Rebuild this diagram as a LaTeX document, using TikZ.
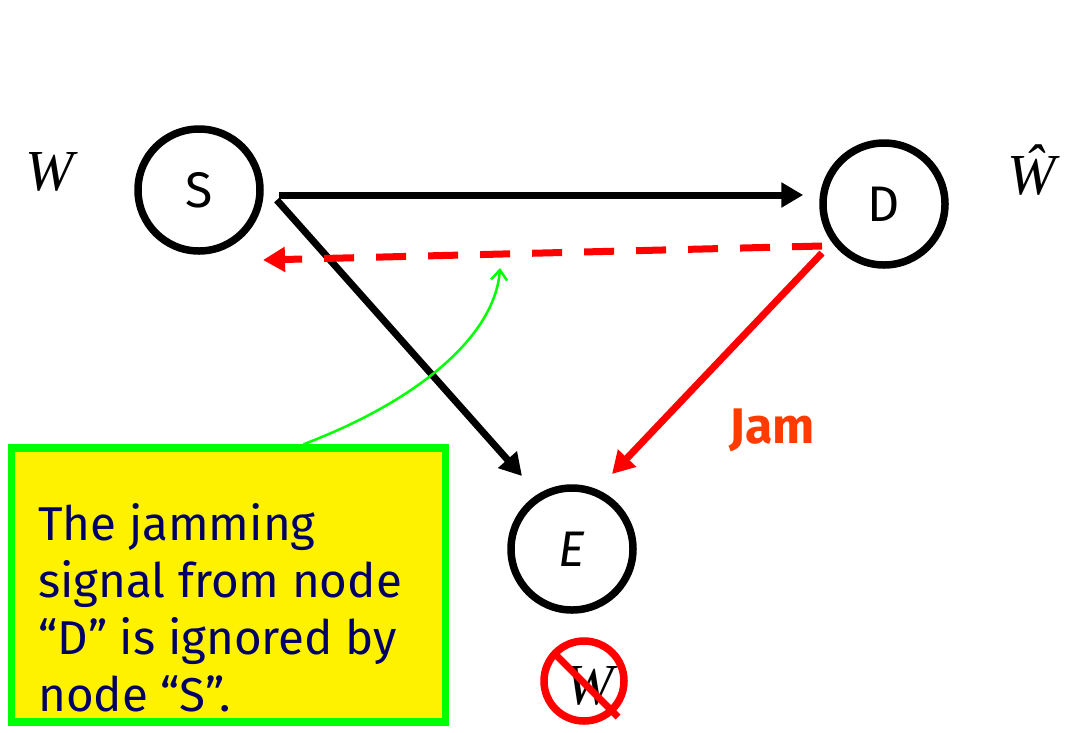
\documentclass[tikz,border=0pt]{standalone}
\usepackage{fontspec}
\setmainfont{Liberation Serif}
\newfontfamily\comic{Fira Sans}
\newfontfamily\tnr{Liberation Serif}
\usetikzlibrary{arrows.meta,calc}
\definecolor{navy}{RGB}{0,0,102}
\definecolor{jamred}{RGB}{255,60,0}
\definecolor{lgreen}{RGB}{0,255,0}
\newcommand\nodefont{\comic\fontsize{50}{52}\selectfont}
\tikzset{
  netnode/.style={circle,draw=black,line width=7.5pt,minimum size=122pt,inner sep=0pt},
  blackarrow/.style={line width=7pt,-{Triangle[length=22pt,width=24pt]}},
  redarrow/.style={red,line width=7pt,-{Triangle[length=22pt,width=24pt]}},
  wlabel/.style={font=\tnr\fontsize{58}{60}\selectfont\itshape},
}
\begin{document}
\begin{tikzpicture}[x=1pt,y=-1pt]
\useasboundingbox (0,0) rectangle (1070,732);
% nodes
\node[netnode] (S) at (199,190) {\nodefont S};
\node[netnode] (D) at (884,204) {\nodefont D};
\node[netnode] (E) at (572,549) {\nodefont\itshape E};
% labels
\node[wlabel] (W1) at (50,172) {W};
\node[wlabel] (W2) at (1032,170) {Ŵ};
% crossed W
\node[wlabel] (W3) at (590,686) {W};
\node[circle,draw=red,line width=7.5pt,minimum size=80pt,inner sep=0pt] (noW) at (584,681) {};
\draw[red,line width=7pt] ($(noW.center)+(-27,-25)$) -- ($(noW.center)+(34,36)$);
% connectors
\draw[blackarrow] ($(S.east)+(15,5)$) -- ($(D.west)+(-16,-9)$);
\draw[blackarrow] ($(S.east)+(13,10)$) -- ($(E.center)+(-50,-73)$);
\draw[redarrow,dash pattern=on 30pt off 22pt] ($(D.center)+(-62,42)$) -- ($(S.center)+(64,70)$);
\draw[redarrow] ($(D.center)+(-62,49)$) -- ($(E.center)+(40,-75)$);
\node[font=\comic\bfseries\fontsize{50}{52}\selectfont,text=jamred] (jam) at (772,430) {Jam};
% note box
\node[draw=lgreen,fill=yellow,line width=7.5pt,minimum width=434pt,minimum height=274pt,inner sep=0pt] (box) at (228.5,585) {};
\node[anchor=north west,align=left,text=navy,inner sep=0pt,font=\comic\fontsize{47.5}{57}\selectfont] (note) at (38,503)
  {The jamming\\signal from node\\“D” is ignored by\\node “S”.};
\draw[lgreen,line width=2.5pt,-{Straight Barb[length=10pt,width=16pt]}] ($(box.north)+(75,0)$) .. controls (420,400) and (495,335) .. (500,268);
\end{tikzpicture}
\end{document}
